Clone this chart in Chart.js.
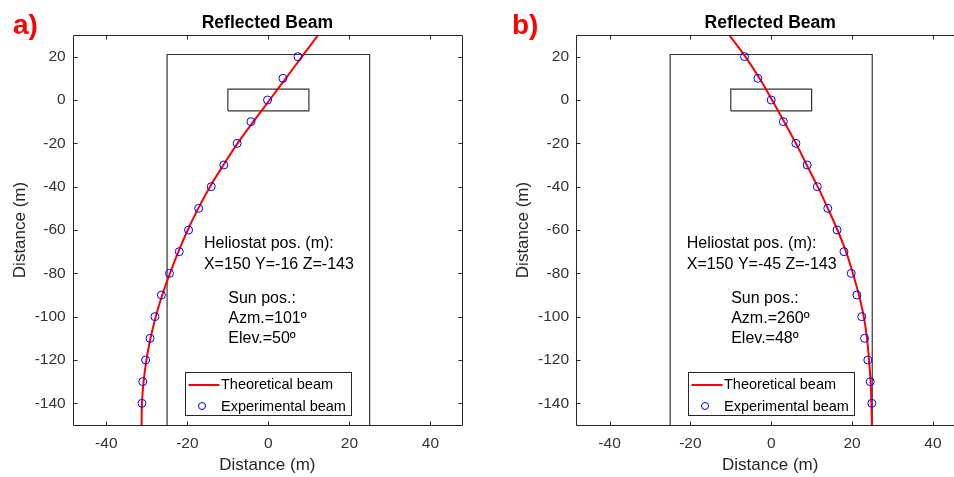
<!DOCTYPE html>
<html>
<head>
<meta charset="utf-8">
<script src="https://cdn.jsdelivr.net/npm/chart.js@4/dist/chart.umd.min.js"></script>
<style>
  html, body { margin: 0; padding: 0; background: #fff; width: 954px; height: 477px; overflow: hidden; position: relative; }
  canvas { position: absolute; top: 0; }
  #chartA { left: 0; }
  #chartB { left: 477px; }
</style>
</head>
<body>
<canvas id="chartA" width="477" height="477"></canvas>
<canvas id="chartB" width="510" height="477"></canvas>
<script>
// axis ticks
const xTicks = [-40, -20, 0, 20, 40];
const yTicks = [-140, -120, -100, -80, -60, -40, -20, 0, 20];

// experimental beam, measured every 10 m
const expY = [20, 10, 0, -10, -20, -30, -40, -50, -60, -70, -80, -90, -100, -110, -120, -130, -140];
const expXA = [7.3, 3.6, -0.2, -4.3, -7.7, -11.0, -14.1, -17.2, -19.7, -22.0, -24.4, -26.4, -28.0, -29.2, -30.3, -31.0, -31.2];
const expXB = [-6.6, -3.3, 0.0, 3.0, 6.1, 8.9, 11.4, 14.0, 16.3, 18.0, 19.8, 21.2, 22.4, 23.1, 23.9, 24.5, 24.9];

// theoretical beam
const theoY = [30, 20, 10, 0, -10, -20, -30, -40, -50, -60, -70, -80, -90, -100, -110, -120, -130, -140, -150];
const theoXA = [12.3, 8.3, 4.3, 0.3, -3.7, -7.6, -11.1, -14.4, -17.3, -19.9, -22.2, -24.3, -26.2, -27.8, -29.1, -30.1, -30.8, -31.2, -31.3];
const theoXB = [-10.4, -6.4, -2.9, 0.2, 3.2, 6.1, 8.8, 11.5, 14.0, 16.4, 18.5, 20.2, 21.7, 22.9, 23.7, 24.2, 24.6, 24.8, 24.9];

// target outlines
const outerX = [-25, -25, 25, 25];
const outerY = [-150, 21, 21, -150];
const innerX = [-10, -10, 10, 10, -10];
const innerY = [-5, 5, 5, -5, -5];

const notesA = ["Heliostat pos. (m):", "X=150 Y=-16 Z=-143", "Sun pos.:", "Azm.=101º", "Elev.=50º"];
const notesB = ["Heliostat pos. (m):", "X=150 Y=-45 Z=-143", "Sun pos.:", "Azm.=260º", "Elev.=48º"];

const FONT = "'Liberation Sans', Arial, sans-serif";

function pts(xs, ys) {
  return xs.map((x, i) => ({ x: x, y: ys[i] }));
}

const framePlugin = {
  id: "frame",
  afterDatasetsDraw(chart, args, opts) {
    const ctx = chart.ctx;
    const a = chart.chartArea;
    const sx = chart.scales.x, sy = chart.scales.y;
    ctx.save();

    // axes box with inward ticks
    ctx.strokeStyle = "#262626";
    ctx.lineWidth = 1;
    const L = Math.round(a.left) + 0.5, R = Math.round(a.right) + 0.5;
    const T = Math.round(a.top) + 0.5, B = Math.round(a.bottom) + 0.5;
    ctx.beginPath();
    ctx.rect(L, T, R - L, B - T);
    xTicks.forEach(v => {
      const p = Math.round(sx.getPixelForValue(v)) + 0.5;
      ctx.moveTo(p, B); ctx.lineTo(p, B - 4);
      ctx.moveTo(p, T); ctx.lineTo(p, T + 4);
    });
    yTicks.forEach(v => {
      const p = Math.round(sy.getPixelForValue(v)) + 0.5;
      ctx.moveTo(L, p); ctx.lineTo(L + 4, p);
      ctx.moveTo(R, p); ctx.lineTo(R - 4, p);
    });
    ctx.stroke();

    // title and panel letter
    ctx.fillStyle = "#000";
    ctx.font = "bold 17.5px " + FONT;
    ctx.textAlign = "center";
    ctx.textBaseline = "alphabetic";
    ctx.fillText("Reflected Beam", (a.left + a.right) / 2, 28);
    ctx.fillStyle = "#ff0000";
    ctx.font = "bold 28px " + FONT;
    ctx.textAlign = "left";
    ctx.fillText(opts.letter, opts.letterX, 34);

    // annotations
    ctx.fillStyle = "#000";
    ctx.font = "16px " + FONT;
    ctx.textBaseline = "middle";
    const n = opts.notes;
    const hx = sx.getPixelForValue(opts.heliostatX);
    const sunx = sx.getPixelForValue(-9.9);
    ctx.fillText(n[0], hx, sy.getPixelForValue(-66.2));
    ctx.fillText(n[1], hx, sy.getPixelForValue(-75.9));
    ctx.fillText(n[2], sunx, sy.getPixelForValue(-91.5));
    ctx.fillText(n[3], sunx, sy.getPixelForValue(-100.7));
    ctx.fillText(n[4], sunx, sy.getPixelForValue(-109.9));

    // legend
    const lx = Math.round(sx.getPixelForValue(-20.6)) + 0.5;
    const ly = Math.round(a.top + 337) + 0.5;
    ctx.fillStyle = "#fff";
    ctx.fillRect(lx, ly, 166, 43);
    ctx.strokeStyle = "#262626";
    ctx.strokeRect(lx, ly, 166, 43);
    ctx.strokeStyle = "#ff0000";
    ctx.lineWidth = 2;
    ctx.beginPath();
    ctx.moveTo(lx + 3, ly + 12.5);
    ctx.lineTo(lx + 34, ly + 12.5);
    ctx.stroke();
    ctx.strokeStyle = "#0000ff";
    ctx.lineWidth = 1;
    ctx.beginPath();
    ctx.arc(lx + 16.5, ly + 33.5, 3.5, 0, Math.PI * 2);
    ctx.stroke();
    ctx.fillStyle = "#000";
    ctx.font = "14.5px " + FONT;
    ctx.fillText("Theoretical beam", lx + 35.5, ly + 12.5);
    ctx.fillText("Experimental beam", lx + 35.5, ly + 34);
    ctx.restore();
  }
};

function makeChart(id, expX, theoX, yAxisWidth, yTitlePad, rightPad, frameOpts) {
  const data = {
    datasets: [
      {
        label: "Experimental beam",
        data: pts(expX, expY),
        showLine: false,
        pointStyle: "circle",
        pointRadius: 4,
        pointBorderWidth: 1,
        borderColor: "#0000ff",
        backgroundColor: "rgba(0,0,0,0)",
      },
      {
        label: "Theoretical beam",
        data: pts(theoX, theoY),
        showLine: true,
        pointRadius: 0,
        borderColor: "#ff0000",
        borderWidth: 2,
        tension: 0.4,
      },
      {
        label: "outer",
        data: pts(outerX, outerY),
        showLine: true,
        pointRadius: 0,
        borderColor: "#333333",
        borderWidth: 1.2,
      },
      {
        label: "inner",
        data: pts(innerX, innerY),
        showLine: true,
        pointRadius: 0,
        borderColor: "#333333",
        borderWidth: 1.2,
      },
    ],
  };

  const config = {
    type: "scatter",
    data,
    options: {
      responsive: false,
      animation: false,
      layout: { padding: { left: 0, top: 35, right: rightPad, bottom: 0 } },
      plugins: {
        legend: { display: false },
        tooltip: { enabled: false },
        frame: frameOpts,
      },
      scales: {
        x: {
          type: "linear",
          min: -48.3,
          max: 47.8,
          grid: { display: false, drawTicks: false },
          border: { display: false },
          afterBuildTicks: s => { s.ticks = xTicks.map(v => ({ value: v })); },
          afterFit: s => { s.height = 52; },
          ticks: { padding: 9, color: "#333", font: { family: FONT, size: 15.5 } },
          title: {
            display: true,
            text: "Distance (m)",
            color: "#262626",
            font: { family: FONT, size: 17 },
            padding: { top: 0, bottom: 1 },
          },
        },
        y: {
          type: "linear",
          min: -150,
          max: 30,
          grid: { display: false, drawTicks: false },
          border: { display: false },
          afterBuildTicks: s => { s.ticks = yTicks.map(v => ({ value: v })); },
          afterFit: s => { s.width = yAxisWidth; },
          ticks: { padding: 7, color: "#333", font: { family: FONT, size: 15.5 } },
          title: {
            display: true,
            text: "Distance (m)",
            color: "#262626",
            font: { family: FONT, size: 17 },
            padding: { top: yTitlePad, bottom: 0 },
          },
        },
      },
    },
    plugins: [framePlugin],
  };

  return new Chart(document.getElementById(id), config);
}

makeChart("chartA", expXA, theoXA, 72.7, 10, 15,
  { letter: "a)", letterX: 13, notes: notesA, heliostatX: -15.9 });
makeChart("chartB", expXB, theoXB, 99, 36, 22.6,
  { letter: "b)", letterX: 35, notes: notesB, heliostatX: -20.9 });
</script>
</body>
</html>
